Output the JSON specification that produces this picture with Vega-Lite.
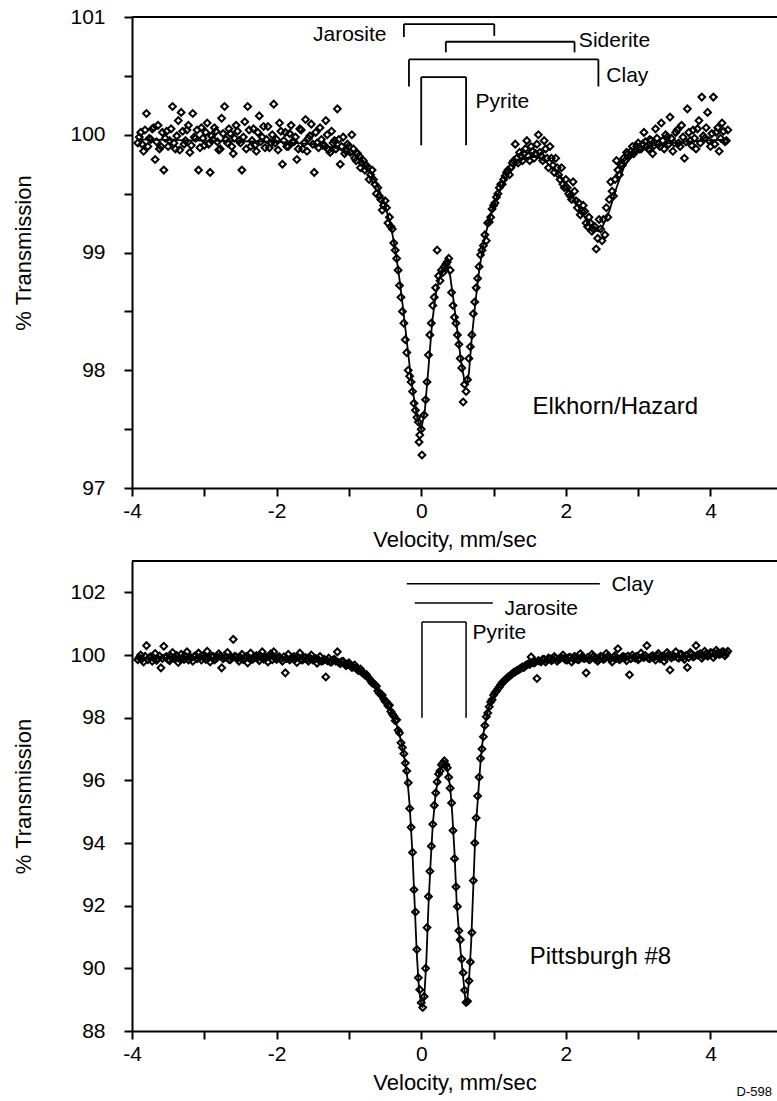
{
"$schema": "https://vega.github.io/schema/vega-lite/v6.json",
"padding": {"left": 12, "top": 6, "right": 0, "bottom": 0},
"spacing": 10,
"config": {
"font": "Liberation Sans",
"view": {"stroke": null},
"axis": {"domainColor": "black", "domainWidth": 2, "tickColor": "black", "tickWidth": 2, "tickSize": 8, "labelColor": "black", "labelFontSize": 21, "labelFont": "Liberation Sans", "titleFont": "Liberation Sans", "titleFontSize": 22, "titleFontWeight": "normal", "titleColor": "black", "grid": false, "labelFlush": false, "labelOverlap": false},
"axisX": {"labelPadding": 4, "titlePadding": 8},
"axisY": {"labelPadding": 19, "titlePadding": 34},
"text": {"font": "Liberation Sans", "fontSize": 21, "color": "black"}
},
"datasets": {
"t_pts": [
{"v":-3.92,"t":99.93},{"v":-3.88,"t":100.02},{"v":-3.84,"t":99.86},{"v":-3.80,"t":100.18},{"v":-3.76,"t":99.97},{"v":-3.72,"t":100.05},{"v":-3.68,"t":99.79},{"v":-3.64,"t":100.08},{"v":-3.60,"t":99.90},{"v":-3.56,"t":99.70},
{"v":-3.52,"t":100.03},{"v":-3.48,"t":99.95},{"v":-3.44,"t":100.24},{"v":-3.40,"t":99.88},{"v":-3.36,"t":100.12},{"v":-3.32,"t":100.19},{"v":-3.28,"t":99.92},{"v":-3.24,"t":100.04},{"v":-3.20,"t":99.85},{"v":-3.16,"t":100.18},
{"v":-3.12,"t":99.97},{"v":-3.08,"t":99.70},{"v":-3.04,"t":100.06},{"v":-3.00,"t":99.91},{"v":-2.96,"t":100.10},{"v":-2.92,"t":99.68},{"v":-2.88,"t":99.96},{"v":-2.84,"t":100.03},{"v":-2.80,"t":99.87},{"v":-2.76,"t":100.14},
{"v":-2.72,"t":100.24},{"v":-2.68,"t":99.93},{"v":-2.64,"t":100.01},{"v":-2.60,"t":99.84},{"v":-2.56,"t":100.08},{"v":-2.52,"t":99.95},{"v":-2.48,"t":99.70},{"v":-2.44,"t":100.11},{"v":-2.40,"t":100.24},{"v":-2.36,"t":99.90},
{"v":-2.32,"t":100.05},{"v":-2.28,"t":99.86},{"v":-2.24,"t":100.16},{"v":-2.20,"t":99.98},{"v":-2.16,"t":99.89},{"v":-2.12,"t":100.07},{"v":-2.08,"t":99.93},{"v":-2.04,"t":100.26},{"v":-2.00,"t":99.96},{"v":-1.96,"t":100.10},
{"v":-1.92,"t":99.75},{"v":-1.88,"t":100.02},{"v":-1.84,"t":99.90},{"v":-1.80,"t":100.08},{"v":-1.76,"t":99.94},{"v":-1.72,"t":99.79},{"v":-1.68,"t":100.05},{"v":-1.64,"t":99.88},{"v":-1.60,"t":100.13},{"v":-1.56,"t":99.97},
{"v":-1.52,"t":100.09},{"v":-1.48,"t":99.68},{"v":-1.44,"t":99.93},{"v":-1.40,"t":100.06},{"v":-1.36,"t":99.91},{"v":-1.32,"t":100.12},{"v":-1.28,"t":99.87},{"v":-1.24,"t":100.03},{"v":-1.20,"t":99.95},{"v":-1.16,"t":100.22},
{"v":-1.12,"t":99.75},{"v":-1.08,"t":99.98},{"v":-1.04,"t":99.86},{"v":-1.00,"t":99.90},{"v":-0.96,"t":100.00},{"v":-0.92,"t":99.80},{"v":-0.88,"t":99.84},{"v":-0.84,"t":99.72},{"v":-0.80,"t":99.78},{"v":-0.76,"t":99.74},
{"v":-0.72,"t":99.62},{"v":-0.68,"t":99.70},{"v":-0.64,"t":99.58},{"v":-0.60,"t":99.55},{"v":-0.56,"t":99.45},{"v":-0.52,"t":99.40},{"v":-0.48,"t":99.38},{"v":-0.44,"t":99.30},{"v":-0.40,"t":99.20},{"v":-0.36,"t":99.02},
{"v":-0.32,"t":98.85},{"v":-0.28,"t":98.62},{"v":-0.24,"t":98.40},{"v":-0.20,"t":98.15},{"v":-0.16,"t":97.95},{"v":-0.12,"t":97.82},{"v":-0.08,"t":97.66},{"v":-0.04,"t":97.56},{"v":0.00,"t":97.50},{"v":0.04,"t":97.62},
{"v":0.08,"t":97.90},{"v":0.12,"t":98.30},{"v":0.16,"t":98.55},{"v":0.20,"t":98.70},{"v":0.24,"t":98.80},{"v":0.28,"t":98.85},{"v":0.32,"t":98.88},{"v":0.36,"t":98.92},{"v":0.40,"t":98.85},{"v":0.44,"t":98.55},
{"v":0.48,"t":98.40},{"v":0.52,"t":98.22},{"v":0.56,"t":98.02},{"v":0.60,"t":97.88},{"v":0.64,"t":97.92},{"v":0.68,"t":98.20},{"v":0.72,"t":98.48},{"v":0.76,"t":98.70},{"v":0.80,"t":98.88},{"v":0.84,"t":99.02},
{"v":0.88,"t":99.15},{"v":0.92,"t":99.25},{"v":0.96,"t":99.30},{"v":1.00,"t":99.40},{"v":1.04,"t":99.47},{"v":1.08,"t":99.55},{"v":1.12,"t":99.58},{"v":1.16,"t":99.65},{"v":1.20,"t":99.70},{"v":1.24,"t":99.72},
{"v":1.28,"t":99.78},{"v":1.32,"t":99.80},{"v":1.36,"t":99.85},{"v":1.40,"t":99.78},{"v":1.44,"t":99.88},{"v":1.48,"t":99.82},{"v":1.52,"t":99.90},{"v":1.56,"t":99.80},{"v":1.60,"t":99.92},{"v":1.64,"t":99.85},
{"v":1.68,"t":99.78},{"v":1.72,"t":99.88},{"v":1.76,"t":99.72},{"v":1.80,"t":99.80},{"v":1.84,"t":99.68},{"v":1.88,"t":99.72},{"v":1.92,"t":99.62},{"v":1.96,"t":99.58},{"v":2.00,"t":99.62},{"v":2.04,"t":99.50},
{"v":2.08,"t":99.45},{"v":2.12,"t":99.52},{"v":2.16,"t":99.38},{"v":2.20,"t":99.32},{"v":2.24,"t":99.40},{"v":2.28,"t":99.25},{"v":2.32,"t":99.30},{"v":2.36,"t":99.18},{"v":2.40,"t":99.22},{"v":2.44,"t":99.12},
{"v":2.48,"t":99.20},{"v":2.52,"t":99.28},{"v":2.56,"t":99.38},{"v":2.60,"t":99.45},{"v":2.64,"t":99.52},{"v":2.68,"t":99.62},{"v":2.72,"t":99.70},{"v":2.76,"t":99.75},{"v":2.80,"t":99.80},{"v":2.84,"t":99.85},
{"v":2.88,"t":99.82},{"v":2.92,"t":99.90},{"v":2.96,"t":99.86},{"v":3.00,"t":99.93},{"v":3.04,"t":99.88},{"v":3.08,"t":100.02},{"v":3.12,"t":99.90},{"v":3.16,"t":99.96},{"v":3.20,"t":99.84},{"v":3.24,"t":100.05},
{"v":3.28,"t":99.92},{"v":3.32,"t":100.10},{"v":3.36,"t":99.88},{"v":3.40,"t":99.98},{"v":3.44,"t":100.15},{"v":3.48,"t":99.86},{"v":3.52,"t":100.02},{"v":3.56,"t":99.93},{"v":3.60,"t":100.08},{"v":3.64,"t":99.80},
{"v":3.68,"t":100.22},{"v":3.72,"t":99.95},{"v":3.76,"t":100.04},{"v":3.80,"t":99.88},{"v":3.84,"t":100.12},{"v":3.88,"t":100.32},{"v":3.92,"t":99.97},{"v":3.96,"t":100.19},{"v":4.00,"t":99.90},{"v":4.04,"t":100.32},
{"v":4.08,"t":100.02},{"v":4.12,"t":99.86},{"v":4.16,"t":100.10},{"v":4.20,"t":99.94},{"v":4.24,"t":100.04},
{"v":-0.62,"t":99.50},{"v":-0.58,"t":99.48},{"v":-0.54,"t":99.36},{"v":-0.50,"t":99.44},{"v":-0.46,"t":99.25},{"v":-0.42,"t":99.22},{"v":-0.38,"t":99.08},{"v":-0.34,"t":98.95},{"v":-0.30,"t":98.72},{"v":-0.26,"t":98.50},
{"v":-0.22,"t":98.26},{"v":-0.18,"t":98.00},{"v":-0.14,"t":97.90},{"v":-0.10,"t":97.72},{"v":-0.06,"t":97.60},{"v":-0.02,"t":97.45},{"v":0.01,"t":97.28},{"v":-0.03,"t":97.39},{"v":0.06,"t":97.75},{"v":0.10,"t":98.13},
{"v":0.14,"t":98.40},{"v":0.18,"t":98.62},{"v":0.22,"t":99.02},{"v":0.26,"t":98.76},{"v":0.30,"t":98.83},{"v":0.34,"t":98.90},{"v":0.38,"t":98.95},{"v":0.42,"t":98.66},{"v":0.46,"t":98.45},{"v":0.50,"t":98.30},
{"v":0.54,"t":98.10},{"v":0.58,"t":97.73},{"v":0.62,"t":97.82},{"v":0.66,"t":98.10},{"v":0.70,"t":98.30},{"v":0.74,"t":98.58},{"v":0.78,"t":98.78},{"v":0.82,"t":98.98},{"v":0.86,"t":99.06},{"v":0.90,"t":99.10},
{"v":0.94,"t":99.26},{"v":0.98,"t":99.37},{"v":1.02,"t":99.42},
{"v":1.30,"t":99.92},{"v":1.46,"t":99.95},{"v":1.62,"t":100.00},{"v":1.70,"t":99.95},{"v":1.78,"t":99.90},{"v":1.86,"t":99.80},{"v":1.94,"t":99.72},{"v":2.02,"t":99.55},{"v":2.10,"t":99.60},{"v":2.18,"t":99.42},
{"v":2.26,"t":99.35},{"v":2.34,"t":99.25},{"v":2.42,"t":99.03},{"v":2.46,"t":99.28},{"v":2.50,"t":99.10},{"v":2.54,"t":99.15},{"v":2.58,"t":99.30},{"v":2.62,"t":99.60},{"v":2.66,"t":99.48},{"v":2.70,"t":99.78},
{"v":-3.90,"t":99.98},{"v":-3.86,"t":99.92},{"v":-3.82,"t":100.04},{"v":-3.78,"t":99.90},{"v":-3.74,"t":99.96},{"v":-3.70,"t":100.06},{"v":-3.66,"t":99.94},{"v":-3.62,"t":99.88},{"v":-3.58,"t":100.02},{"v":-3.54,"t":99.97},
{"v":-3.50,"t":99.90},{"v":-3.46,"t":100.05},{"v":-3.42,"t":99.93},{"v":-3.38,"t":99.99},{"v":-3.34,"t":99.87},{"v":-3.30,"t":100.03},{"v":-3.26,"t":99.95},{"v":-3.22,"t":100.08},{"v":-3.18,"t":99.91},{"v":-3.14,"t":99.98},
{"v":-3.10,"t":100.04},{"v":-3.06,"t":99.89},{"v":-3.02,"t":99.97},{"v":-2.98,"t":100.02},{"v":-2.94,"t":99.92},{"v":-2.90,"t":99.99},{"v":-2.86,"t":100.06},{"v":-2.82,"t":99.94},{"v":-2.78,"t":99.88},{"v":-2.74,"t":100.01},
{"v":-2.70,"t":99.96},{"v":-2.66,"t":100.05},{"v":-2.62,"t":99.90},{"v":-2.58,"t":99.97},{"v":-2.54,"t":100.03},{"v":-2.50,"t":99.93},{"v":-2.46,"t":99.98},{"v":-2.42,"t":99.88},{"v":-2.38,"t":100.04},{"v":-2.34,"t":99.95},
{"v":-2.30,"t":99.91},{"v":-2.26,"t":100.02},{"v":-2.22,"t":99.94},{"v":-2.18,"t":100.07},{"v":-2.14,"t":99.96},{"v":-2.10,"t":99.89},{"v":-2.06,"t":100.00},{"v":-2.02,"t":99.93},{"v":-1.98,"t":99.87},{"v":-1.94,"t":100.03},
{"v":-1.90,"t":99.95},{"v":-1.86,"t":99.90},{"v":-1.82,"t":100.01},{"v":-1.78,"t":99.94},{"v":-1.74,"t":99.98},{"v":-1.70,"t":99.88},{"v":-1.66,"t":100.04},{"v":-1.62,"t":99.93},{"v":-1.58,"t":99.86},{"v":-1.54,"t":99.99},
{"v":-1.50,"t":99.92},{"v":-1.46,"t":100.02},{"v":-1.42,"t":99.89},{"v":-1.38,"t":99.96},{"v":-1.34,"t":99.91},{"v":-1.30,"t":100.00},{"v":-1.26,"t":99.85},{"v":-1.22,"t":99.93},{"v":-1.18,"t":99.88},{"v":-1.14,"t":99.96},
{"v":-1.10,"t":99.90},{"v":-1.06,"t":99.84},{"v":-1.02,"t":99.92},{"v":-0.98,"t":99.85},{"v":-0.94,"t":99.88},{"v":-0.90,"t":99.78},{"v":-0.86,"t":99.82},{"v":-0.82,"t":99.76},{"v":-0.78,"t":99.70},{"v":-0.74,"t":99.72},
{"v":-0.70,"t":99.66},{"v":-0.66,"t":99.62},
{"v":1.06,"t":99.50},{"v":1.10,"t":99.58},{"v":1.14,"t":99.62},{"v":1.18,"t":99.68},{"v":1.22,"t":99.66},{"v":1.26,"t":99.76},{"v":1.34,"t":99.76},{"v":1.38,"t":99.82},{"v":1.42,"t":99.84},{"v":1.50,"t":99.78},
{"v":1.54,"t":99.86},{"v":1.58,"t":99.84},{"v":1.66,"t":99.82},{"v":1.74,"t":99.80},{"v":1.82,"t":99.74},{"v":1.90,"t":99.66},{"v":1.98,"t":99.55},{"v":2.06,"t":99.48},{"v":2.14,"t":99.44},{"v":2.22,"t":99.35},
{"v":2.30,"t":99.22},{"v":2.38,"t":99.20},{"v":2.74,"t":99.66},{"v":2.78,"t":99.74},{"v":2.82,"t":99.78},{"v":2.86,"t":99.84},{"v":2.90,"t":99.86},{"v":2.94,"t":99.84},{"v":2.98,"t":99.90},{"v":3.02,"t":99.88},
{"v":3.06,"t":99.92},{"v":3.10,"t":99.94},{"v":3.14,"t":99.88},{"v":3.18,"t":99.95},{"v":3.22,"t":99.91},{"v":3.26,"t":99.97},{"v":3.30,"t":99.90},{"v":3.34,"t":99.95},{"v":3.38,"t":100.00},{"v":3.42,"t":99.92},
{"v":3.46,"t":99.97},{"v":3.50,"t":99.93},{"v":3.54,"t":100.04},{"v":3.58,"t":99.90},{"v":3.62,"t":99.98},{"v":3.66,"t":99.94},{"v":3.70,"t":100.02},{"v":3.74,"t":99.91},{"v":3.78,"t":99.97},{"v":3.82,"t":100.05},
{"v":3.86,"t":99.93},{"v":3.90,"t":99.99},{"v":3.94,"t":100.06},{"v":3.98,"t":99.95},{"v":4.02,"t":100.01},{"v":4.06,"t":99.92},{"v":4.10,"t":100.06},{"v":4.14,"t":99.97},{"v":4.18,"t":100.03},{"v":4.22,"t":99.95}
],
"t_fit": [
{"v":-3.92,"t":99.96},{"v":-3.0,"t":99.95},{"v":-2.0,"t":99.94},{"v":-1.5,"t":99.92},{"v":-1.2,"t":99.89},{"v":-1.0,"t":99.85},{"v":-0.9,"t":99.82},{"v":-0.8,"t":99.76},{"v":-0.7,"t":99.68},{"v":-0.6,"t":99.56},
{"v":-0.5,"t":99.40},{"v":-0.45,"t":99.29},{"v":-0.4,"t":99.16},{"v":-0.35,"t":98.99},{"v":-0.3,"t":98.77},{"v":-0.25,"t":98.52},{"v":-0.2,"t":98.25},{"v":-0.15,"t":97.98},{"v":-0.1,"t":97.76},{"v":-0.05,"t":97.58},
{"v":0.0,"t":97.50},{"v":0.05,"t":97.66},{"v":0.1,"t":98.02},{"v":0.15,"t":98.40},{"v":0.2,"t":98.64},{"v":0.25,"t":98.78},{"v":0.3,"t":98.86},{"v":0.35,"t":98.89},{"v":0.4,"t":98.80},{"v":0.45,"t":98.58},
{"v":0.5,"t":98.33},{"v":0.55,"t":98.08},{"v":0.6,"t":97.90},{"v":0.63,"t":97.88},{"v":0.66,"t":97.98},{"v":0.7,"t":98.28},{"v":0.75,"t":98.58},{"v":0.8,"t":98.84},{"v":0.85,"t":99.04},{"v":0.9,"t":99.18},
{"v":0.95,"t":99.30},{"v":1.0,"t":99.40},{"v":1.1,"t":99.55},{"v":1.2,"t":99.66},{"v":1.3,"t":99.74},{"v":1.4,"t":99.79},{"v":1.5,"t":99.81},{"v":1.6,"t":99.81},{"v":1.7,"t":99.78},{"v":1.8,"t":99.73},
{"v":1.9,"t":99.66},{"v":2.0,"t":99.57},{"v":2.1,"t":99.47},{"v":2.2,"t":99.36},{"v":2.3,"t":99.26},{"v":2.4,"t":99.19},{"v":2.45,"t":99.18},{"v":2.5,"t":99.21},{"v":2.6,"t":99.35},{"v":2.7,"t":99.55},
{"v":2.8,"t":99.72},{"v":2.9,"t":99.82},{"v":3.0,"t":99.87},{"v":3.2,"t":99.91},{"v":3.6,"t":99.94},{"v":4.24,"t":99.96}
],
"t_seg": [
{"x1":-0.24,"x2":1.01,"y1":100.94,"y2":100.94},{"x1":-0.24,"x2":-0.24,"y1":100.94,"y2":100.83},{"x1":1.01,"x2":1.01,"y1":100.94,"y2":100.84},
{"x1":0.34,"x2":2.12,"y1":100.79,"y2":100.79},{"x1":0.34,"x2":0.34,"y1":100.79,"y2":100.70},{"x1":2.12,"x2":2.12,"y1":100.79,"y2":100.70},
{"x1":-0.17,"x2":2.45,"y1":100.64,"y2":100.64},{"x1":-0.17,"x2":-0.17,"y1":100.64,"y2":100.41},{"x1":2.45,"x2":2.45,"y1":100.64,"y2":100.41},
{"x1":0.0,"x2":0.62,"y1":100.49,"y2":100.49},{"x1":0.0,"x2":0.0,"y1":100.49,"y2":99.91},{"x1":0.62,"x2":0.62,"y1":100.49,"y2":99.91}
],
"t_txt": [
{"v":-0.48,"t":100.85,"label":"Jarosite"},{"v":2.18,"t":100.80,"label":"Siderite"},{"v":2.56,"t":100.50,"label":"Clay"},{"v":0.75,"t":100.28,"label":"Pyrite"},{"v":1.54,"t":97.69,"label":"Elkhorn/Hazard"}
],
"b_pts": [
{"v":-3.92,"t":99.85},{"v":-3.88,"t":100.00},{"v":-3.84,"t":99.78},{"v":-3.80,"t":100.30},{"v":-3.76,"t":99.92},{"v":-3.72,"t":99.80},{"v":-3.68,"t":100.05},{"v":-3.64,"t":99.88},{"v":-3.60,"t":99.59},{"v":-3.56,"t":100.28},
{"v":-3.52,"t":99.95},{"v":-3.48,"t":99.82},{"v":-3.44,"t":100.08},{"v":-3.40,"t":99.90},{"v":-3.36,"t":99.76},{"v":-3.32,"t":100.02},{"v":-3.28,"t":99.86},{"v":-3.24,"t":100.10},{"v":-3.20,"t":99.93},{"v":-3.16,"t":99.80},
{"v":-3.12,"t":99.98},{"v":-3.08,"t":100.06},{"v":-3.04,"t":99.84},{"v":-3.00,"t":99.92},{"v":-2.96,"t":100.12},{"v":-2.92,"t":99.78},{"v":-2.88,"t":99.96},{"v":-2.84,"t":99.88},{"v":-2.80,"t":100.04},{"v":-2.76,"t":99.59},
{"v":-2.72,"t":99.92},{"v":-2.68,"t":100.08},{"v":-2.64,"t":99.85},{"v":-2.60,"t":100.50},{"v":-2.56,"t":99.94},{"v":-2.52,"t":99.80},{"v":-2.48,"t":100.02},{"v":-2.44,"t":99.90},{"v":-2.40,"t":99.75},{"v":-2.36,"t":100.06},
{"v":-2.32,"t":99.88},{"v":-2.28,"t":99.98},{"v":-2.24,"t":99.82},{"v":-2.20,"t":100.10},{"v":-2.16,"t":99.92},{"v":-2.12,"t":99.78},{"v":-2.08,"t":100.04},{"v":-2.04,"t":100.10},{"v":-2.00,"t":99.86},{"v":-1.96,"t":99.94},
{"v":-1.92,"t":99.80},{"v":-1.88,"t":99.43},{"v":-1.84,"t":100.02},{"v":-1.80,"t":99.88},{"v":-1.76,"t":99.95},{"v":-1.72,"t":99.76},{"v":-1.68,"t":100.06},{"v":-1.64,"t":99.84},{"v":-1.60,"t":99.92},{"v":-1.56,"t":99.80},
{"v":-1.52,"t":100.00},{"v":-1.48,"t":99.86},{"v":-1.44,"t":99.74},{"v":-1.40,"t":99.95},{"v":-1.36,"t":99.82},{"v":-1.32,"t":99.30},{"v":-1.28,"t":99.90},{"v":-1.24,"t":99.78},{"v":-1.20,"t":99.86},{"v":-1.16,"t":100.10},
{"v":-1.12,"t":99.72},{"v":-1.08,"t":99.80},{"v":-1.04,"t":99.66},{"v":-1.00,"t":99.75},{"v":-0.96,"t":99.60},{"v":-0.92,"t":99.68},{"v":-0.88,"t":99.52},{"v":-0.84,"t":99.55},{"v":-0.80,"t":99.40},{"v":-0.76,"t":99.38},
{"v":-0.72,"t":99.25},{"v":-0.68,"t":99.11},{"v":-0.64,"t":99.05},{"v":-0.60,"t":98.85},{"v":-0.56,"t":98.75},{"v":-0.52,"t":98.60},{"v":-0.48,"t":98.50},{"v":-0.44,"t":98.40},{"v":-0.40,"t":98.12},{"v":-0.36,"t":97.90},
{"v":-0.32,"t":97.60},{"v":-0.28,"t":97.20},{"v":-0.24,"t":96.85},{"v":-0.20,"t":96.30},{"v":-0.16,"t":95.10},{"v":-0.12,"t":93.70},{"v":-0.08,"t":91.80},{"v":-0.04,"t":89.70},{"v":0.00,"t":88.90},{"v":0.04,"t":89.10},
{"v":0.08,"t":91.30},{"v":0.12,"t":93.10},{"v":0.16,"t":94.60},{"v":0.20,"t":95.60},{"v":0.24,"t":96.20},{"v":0.28,"t":96.50},{"v":0.32,"t":96.62},{"v":0.36,"t":96.40},{"v":0.40,"t":95.75},{"v":0.44,"t":94.40},
{"v":0.48,"t":92.60},{"v":0.52,"t":91.20},{"v":0.56,"t":90.30},{"v":0.60,"t":89.30},{"v":0.64,"t":88.95},{"v":0.68,"t":90.20},{"v":0.72,"t":92.80},{"v":0.76,"t":94.80},{"v":0.80,"t":96.10},{"v":0.84,"t":97.00},
{"v":0.88,"t":97.75},{"v":0.92,"t":98.15},{"v":0.96,"t":98.50},{"v":1.00,"t":98.72},{"v":1.04,"t":98.85},{"v":1.08,"t":98.98},{"v":1.12,"t":99.12},{"v":1.16,"t":99.20},{"v":1.20,"t":99.30},{"v":1.24,"t":99.36},
{"v":1.28,"t":99.45},{"v":1.32,"t":99.50},{"v":1.36,"t":99.55},{"v":1.40,"t":99.62},{"v":1.44,"t":99.66},{"v":1.48,"t":99.72},{"v":1.52,"t":99.94},{"v":1.56,"t":99.75},{"v":1.60,"t":99.25},{"v":1.64,"t":99.80},
{"v":1.68,"t":99.86},{"v":1.72,"t":99.78},{"v":1.76,"t":99.90},{"v":1.80,"t":99.82},{"v":1.84,"t":99.95},{"v":1.88,"t":99.80},{"v":1.92,"t":99.88},{"v":1.96,"t":100.00},{"v":2.00,"t":99.84},{"v":2.04,"t":99.92},
{"v":2.08,"t":99.78},{"v":2.12,"t":99.96},{"v":2.16,"t":99.86},{"v":2.20,"t":100.04},{"v":2.24,"t":99.90},{"v":2.28,"t":99.43},{"v":2.32,"t":99.85},{"v":2.36,"t":100.02},{"v":2.40,"t":99.88},{"v":2.44,"t":99.80},
{"v":2.48,"t":99.96},{"v":2.52,"t":99.86},{"v":2.56,"t":100.05},{"v":2.60,"t":99.92},{"v":2.64,"t":99.78},{"v":2.68,"t":99.98},{"v":2.72,"t":100.20},{"v":2.76,"t":99.88},{"v":2.80,"t":99.95},{"v":2.84,"t":99.82},
{"v":2.88,"t":99.37},{"v":2.92,"t":100.00},{"v":2.96,"t":99.90},{"v":3.00,"t":99.85},{"v":3.04,"t":100.06},{"v":3.08,"t":99.92},{"v":3.12,"t":100.30},{"v":3.16,"t":99.88},{"v":3.20,"t":99.98},{"v":3.24,"t":99.84},
{"v":3.28,"t":100.05},{"v":3.32,"t":99.92},{"v":3.36,"t":99.80},{"v":3.40,"t":100.08},{"v":3.44,"t":99.52},{"v":3.48,"t":99.95},{"v":3.52,"t":100.10},{"v":3.56,"t":99.90},{"v":3.60,"t":100.02},{"v":3.64,"t":99.86},
{"v":3.68,"t":99.60},{"v":3.72,"t":100.08},{"v":3.76,"t":99.94},{"v":3.80,"t":100.30},{"v":3.84,"t":100.00},{"v":3.88,"t":99.90},{"v":3.92,"t":100.12},{"v":3.96,"t":99.96},{"v":4.00,"t":100.08},{"v":4.04,"t":99.92},
{"v":4.08,"t":100.15},{"v":4.12,"t":100.02},{"v":4.16,"t":100.10},{"v":4.20,"t":99.98},{"v":4.24,"t":100.12},
{"v":-0.62,"t":99.00},{"v":-0.58,"t":98.78},{"v":-0.54,"t":98.72},{"v":-0.50,"t":98.52},{"v":-0.46,"t":98.38},{"v":-0.42,"t":98.20},{"v":-0.38,"t":98.05},{"v":-0.34,"t":97.93},{"v":-0.30,"t":97.51},{"v":-0.26,"t":97.05},
{"v":-0.22,"t":96.55},{"v":-0.18,"t":95.92},{"v":-0.14,"t":94.50},{"v":-0.10,"t":92.51},{"v":-0.06,"t":90.60},{"v":-0.02,"t":89.32},{"v":0.02,"t":88.75},{"v":0.06,"t":90.00},{"v":0.10,"t":92.29},{"v":0.14,"t":93.90},
{"v":0.18,"t":95.20},{"v":0.22,"t":95.95},{"v":0.26,"t":96.30},{"v":0.30,"t":96.55},{"v":0.34,"t":96.50},{"v":0.38,"t":96.10},{"v":0.42,"t":95.28},{"v":0.46,"t":93.50},{"v":0.50,"t":91.97},{"v":0.54,"t":90.91},
{"v":0.58,"t":89.86},{"v":0.62,"t":88.91},{"v":0.66,"t":89.60},{"v":0.70,"t":91.14},{"v":0.74,"t":94.00},{"v":0.78,"t":95.50},{"v":0.82,"t":96.70},{"v":0.86,"t":97.39},{"v":0.90,"t":98.03},{"v":0.94,"t":98.35},
{"v":0.98,"t":98.57},{"v":1.02,"t":98.80},
{"v":-3.90,"t":99.92},{"v":-3.86,"t":99.88},{"v":-3.82,"t":99.96},{"v":-3.78,"t":99.85},{"v":-3.74,"t":99.94},{"v":-3.70,"t":99.90},{"v":-3.66,"t":99.83},{"v":-3.62,"t":99.97},{"v":-3.58,"t":99.89},{"v":-3.54,"t":99.93},
{"v":-3.50,"t":99.86},{"v":-3.46,"t":99.95},{"v":-3.42,"t":99.90},{"v":-3.38,"t":99.98},{"v":-3.34,"t":99.87},{"v":-3.30,"t":99.92},{"v":-3.26,"t":99.96},{"v":-3.22,"t":99.84},{"v":-3.18,"t":99.91},{"v":-3.14,"t":99.95},
{"v":-3.10,"t":99.88},{"v":-3.06,"t":99.93},{"v":-3.02,"t":99.97},{"v":-2.98,"t":99.86},{"v":-2.94,"t":99.91},{"v":-2.90,"t":99.95},{"v":-2.86,"t":99.84},{"v":-2.82,"t":99.92},{"v":-2.78,"t":99.97},{"v":-2.74,"t":99.88},
{"v":-2.70,"t":99.94},{"v":-2.66,"t":99.86},{"v":-2.62,"t":99.92},{"v":-2.58,"t":99.96},{"v":-2.54,"t":99.88},{"v":-2.50,"t":99.93},{"v":-2.46,"t":99.85},{"v":-2.42,"t":99.95},{"v":-2.38,"t":99.90},{"v":-2.34,"t":99.86},
{"v":-2.30,"t":99.94},{"v":-2.26,"t":99.91},{"v":-2.22,"t":99.97},{"v":-2.18,"t":99.87},{"v":-2.14,"t":99.92},{"v":-2.10,"t":99.95},{"v":-2.06,"t":99.85},{"v":-2.02,"t":99.90},{"v":-1.98,"t":99.93},{"v":-1.94,"t":99.87},
{"v":-1.90,"t":99.94},{"v":-1.86,"t":99.89},{"v":-1.82,"t":99.84},{"v":-1.78,"t":99.92},{"v":-1.74,"t":99.88},{"v":-1.70,"t":99.93},{"v":-1.66,"t":99.85},{"v":-1.62,"t":99.90},{"v":-1.58,"t":99.86},{"v":-1.54,"t":99.91},
{"v":-1.50,"t":99.84},{"v":-1.46,"t":99.89},{"v":-1.42,"t":99.85},{"v":-1.38,"t":99.80},{"v":-1.34,"t":99.86},{"v":-1.30,"t":99.82},{"v":-1.26,"t":99.78},{"v":-1.22,"t":99.84},{"v":-1.18,"t":99.80},{"v":-1.14,"t":99.76},
{"v":-1.10,"t":99.79},{"v":-1.06,"t":99.72},{"v":-1.02,"t":99.70},{"v":-0.98,"t":99.66},{"v":-0.94,"t":99.62},{"v":-0.90,"t":99.58},{"v":-0.86,"t":99.50},{"v":-0.82,"t":99.46},{"v":-0.78,"t":99.36},{"v":-0.74,"t":99.30},
{"v":-0.70,"t":99.18},{"v":-0.66,"t":99.10},
{"v":1.06,"t":98.92},{"v":1.10,"t":99.05},{"v":1.14,"t":99.15},{"v":1.18,"t":99.25},{"v":1.22,"t":99.32},{"v":1.26,"t":99.40},{"v":1.30,"t":99.46},{"v":1.34,"t":99.52},{"v":1.38,"t":99.58},{"v":1.42,"t":99.60},
{"v":1.46,"t":99.68},{"v":1.50,"t":99.70},{"v":1.54,"t":99.76},{"v":1.58,"t":99.78},{"v":1.62,"t":99.82},{"v":1.66,"t":99.79},{"v":1.70,"t":99.86},{"v":1.74,"t":99.84},{"v":1.78,"t":99.88},{"v":1.82,"t":99.85},
{"v":1.86,"t":99.90},{"v":1.90,"t":99.86},{"v":1.94,"t":99.92},{"v":1.98,"t":99.88},{"v":2.02,"t":99.84},{"v":2.06,"t":99.93},{"v":2.10,"t":99.88},{"v":2.14,"t":99.91},{"v":2.18,"t":99.85},{"v":2.22,"t":99.94},
{"v":2.26,"t":99.89},{"v":2.30,"t":99.92},{"v":2.34,"t":99.87},{"v":2.38,"t":99.95},{"v":2.42,"t":99.90},{"v":2.46,"t":99.86},{"v":2.50,"t":99.93},{"v":2.54,"t":99.89},{"v":2.58,"t":99.96},{"v":2.62,"t":99.88},
{"v":2.66,"t":99.93},{"v":2.70,"t":99.90},{"v":2.74,"t":99.85},{"v":2.78,"t":99.94},{"v":2.82,"t":99.91},{"v":2.86,"t":99.97},{"v":2.90,"t":99.88},{"v":2.94,"t":99.93},{"v":2.98,"t":99.96},{"v":3.02,"t":99.89},
{"v":3.06,"t":99.94},{"v":3.10,"t":99.98},{"v":3.14,"t":99.90},{"v":3.18,"t":99.95},{"v":3.22,"t":99.92},{"v":3.26,"t":99.99},{"v":3.30,"t":99.88},{"v":3.34,"t":99.95},{"v":3.38,"t":99.92},{"v":3.42,"t":100.00},
{"v":3.46,"t":99.91},{"v":3.50,"t":99.96},{"v":3.54,"t":99.93},{"v":3.58,"t":100.02},{"v":3.62,"t":99.94},{"v":3.66,"t":99.98},{"v":3.70,"t":99.92},{"v":3.74,"t":100.03},{"v":3.78,"t":99.96},{"v":3.82,"t":100.00},
{"v":3.86,"t":100.05},{"v":3.90,"t":99.97},{"v":3.94,"t":100.04},{"v":3.98,"t":100.00},{"v":4.02,"t":100.06},{"v":4.06,"t":100.02},{"v":4.10,"t":100.08},{"v":4.14,"t":100.03},{"v":4.18,"t":100.10},{"v":4.22,"t":100.06}
],
"b_fit": [
{"v":-3.92,"t":99.90},{"v":-3.0,"t":99.90},{"v":-2.0,"t":99.89},{"v":-1.6,"t":99.87},{"v":-1.3,"t":99.82},{"v":-1.1,"t":99.75},{"v":-1.0,"t":99.70},{"v":-0.9,"t":99.60},{"v":-0.8,"t":99.45},{"v":-0.7,"t":99.20},
{"v":-0.64,"t":99.05},{"v":-0.6,"t":98.85},{"v":-0.55,"t":98.70},{"v":-0.5,"t":98.55},{"v":-0.45,"t":98.35},{"v":-0.4,"t":98.10},{"v":-0.35,"t":97.85},{"v":-0.3,"t":97.45},{"v":-0.25,"t":96.95},{"v":-0.2,"t":96.25},
{"v":-0.16,"t":95.20},{"v":-0.12,"t":93.60},{"v":-0.09,"t":92.00},{"v":-0.06,"t":90.40},{"v":-0.03,"t":89.30},{"v":0.0,"t":88.85},{"v":0.02,"t":88.78},{"v":0.04,"t":89.00},{"v":0.07,"t":90.20},{"v":0.1,"t":92.00},
{"v":0.13,"t":93.40},{"v":0.16,"t":94.60},{"v":0.2,"t":95.60},{"v":0.25,"t":96.25},{"v":0.3,"t":96.55},{"v":0.33,"t":96.57},{"v":0.36,"t":96.35},{"v":0.4,"t":95.80},{"v":0.43,"t":94.90},{"v":0.46,"t":93.70},
{"v":0.49,"t":92.10},{"v":0.52,"t":91.20},{"v":0.55,"t":90.40},{"v":0.58,"t":89.70},{"v":0.61,"t":89.00},{"v":0.63,"t":88.85},{"v":0.66,"t":89.60},{"v":0.69,"t":90.80},{"v":0.72,"t":92.60},{"v":0.75,"t":94.40},
{"v":0.78,"t":95.30},{"v":0.82,"t":96.60},{"v":0.86,"t":97.50},{"v":0.9,"t":98.00},{"v":0.95,"t":98.45},{"v":1.0,"t":98.70},{"v":1.1,"t":99.10},{"v":1.2,"t":99.32},{"v":1.3,"t":99.50},{"v":1.45,"t":99.68},
{"v":1.6,"t":99.78},{"v":1.8,"t":99.84},{"v":2.2,"t":99.87},{"v":3.0,"t":99.90},{"v":4.24,"t":99.98}
],
"b_seg": [
{"x1":-0.2,"x2":2.47,"y1":102.27,"y2":102.27},
{"x1":-0.09,"x2":0.99,"y1":101.66,"y2":101.66},
{"x1":0.01,"x2":0.62,"y1":101.05,"y2":101.05},{"x1":0.01,"x2":0.01,"y1":101.05,"y2":98.0},{"x1":0.62,"x2":0.62,"y1":101.05,"y2":98.0}
],
"b_txt": [
{"v":2.63,"t":102.22,"label":"Clay"},{"v":1.15,"t":101.47,"label":"Jarosite"},{"v":0.71,"t":100.70,"label":"Pyrite"},{"v":1.5,"t":90.37,"label":"Pittsburgh #8"},{"v":4.36,"t":86.05,"label":"D-598"}
]
},
"vconcat": [
{
"width": 645, "height": 471,
"layer": [
{"data": {"name": "t_pts"}, "mark": {"type": "point", "shape": "diamond", "filled": false, "stroke": "black", "strokeWidth": 2, "size": 46, "opacity": 1},
 "encoding": {
  "x": {"field": "v", "type": "quantitative", "scale": {"domain": [-4, 4.92], "nice": false, "zero": false}, "axis": {"values": [-4,-3,-2,-1,0,1,2,3,4], "labelExpr": "datum.value % 2 === 0 ? ('' + datum.value) : ''", "title": "Velocity, mm/sec"}},
  "y": {"field": "t", "type": "quantitative", "scale": {"domain": [97, 101], "nice": false, "zero": false}, "axis": {"values": [97,97.5,98,98.5,99,99.5,100,100.5,101], "labelExpr": "datum.value % 1 === 0 ? ('' + datum.value) : ''", "title": "% Transmission"}}
 }},
{"data": {"name": "t_fit"}, "mark": {"type": "line", "color": "black", "strokeWidth": 1.8},
 "encoding": {
  "x": {"field": "v", "type": "quantitative"},
  "y": {"field": "t", "type": "quantitative"}
 }},
{"data": {"name": "t_seg"}, "mark": {"type": "rule", "color": "black", "strokeWidth": 1.8},
 "encoding": {
  "x": {"field": "x1", "type": "quantitative"},
  "x2": {"field": "x2"},
  "y": {"field": "y1", "type": "quantitative"},
  "y2": {"field": "y2"}
 }},
{"data": {"name": "t_txt"}, "transform": [{"filter": "datum.label === 'Jarosite'"}], "mark": {"type": "text", "align": "right", "baseline": "middle", "fontSize": 21},
 "encoding": {
  "x": {"field": "v", "type": "quantitative"},
  "y": {"field": "t", "type": "quantitative"},
  "text": {"field": "label"}
 }},
{"data": {"name": "t_txt"}, "transform": [{"filter": "datum.label !== 'Jarosite' && datum.label !== 'Elkhorn/Hazard'"}], "mark": {"type": "text", "align": "left", "baseline": "middle", "fontSize": 21},
 "encoding": {
  "x": {"field": "v", "type": "quantitative"},
  "y": {"field": "t", "type": "quantitative"},
  "text": {"field": "label"}
 }},
{"data": {"name": "t_txt"}, "transform": [{"filter": "datum.label === 'Elkhorn/Hazard'"}], "mark": {"type": "text", "align": "left", "baseline": "middle", "fontSize": 24},
 "encoding": {
  "x": {"field": "v", "type": "quantitative"},
  "y": {"field": "t", "type": "quantitative"},
  "text": {"field": "label"}
 }},
{"data": {"values": [{}]}, "mark": {"type": "rule", "color": "black", "strokeWidth": 2},
 "encoding": {"y": {"datum": 101, "type": "quantitative"}}}
]
},
{
"width": 645, "height": 470,
"layer": [
{"data": {"name": "b_pts"}, "mark": {"type": "point", "shape": "diamond", "filled": false, "stroke": "black", "strokeWidth": 2, "size": 46, "opacity": 1},
 "encoding": {
  "x": {"field": "v", "type": "quantitative", "scale": {"domain": [-4, 4.92], "nice": false, "zero": false}, "axis": {"values": [-4,-3,-2,-1,0,1,2,3,4], "labelExpr": "datum.value % 2 === 0 ? ('' + datum.value) : ''", "title": "Velocity, mm/sec"}},
  "y": {"field": "t", "type": "quantitative", "scale": {"domain": [88, 103], "nice": false, "zero": false}, "axis": {"values": [88,89,90,91,92,93,94,95,96,97,98,99,100,101,102], "labelExpr": "datum.value % 2 === 0 ? ('' + datum.value) : ''", "title": "% Transmission"}}
 }},
{"data": {"name": "b_fit"}, "mark": {"type": "line", "color": "black", "strokeWidth": 1.8},
 "encoding": {
  "x": {"field": "v", "type": "quantitative"},
  "y": {"field": "t", "type": "quantitative"}
 }},
{"data": {"name": "b_seg"}, "mark": {"type": "rule", "color": "black", "strokeWidth": 1.5},
 "encoding": {
  "x": {"field": "x1", "type": "quantitative"},
  "x2": {"field": "x2"},
  "y": {"field": "y1", "type": "quantitative"},
  "y2": {"field": "y2"}
 }},
{"data": {"name": "b_txt"}, "transform": [{"filter": "datum.label !== 'Pittsburgh #8' && datum.label !== 'D-598'"}], "mark": {"type": "text", "align": "left", "baseline": "middle", "fontSize": 21},
 "encoding": {
  "x": {"field": "v", "type": "quantitative"},
  "y": {"field": "t", "type": "quantitative"},
  "text": {"field": "label"}
 }},
{"data": {"name": "b_txt"}, "transform": [{"filter": "datum.label === 'Pittsburgh #8'"}], "mark": {"type": "text", "align": "left", "baseline": "middle", "fontSize": 24},
 "encoding": {
  "x": {"field": "v", "type": "quantitative"},
  "y": {"field": "t", "type": "quantitative"},
  "text": {"field": "label"}
 }},
{"data": {"name": "b_txt"}, "transform": [{"filter": "datum.label === 'D-598'"}], "mark": {"type": "text", "align": "left", "baseline": "middle", "fontSize": 13},
 "encoding": {
  "x": {"field": "v", "type": "quantitative"},
  "y": {"field": "t", "type": "quantitative"},
  "text": {"field": "label"}
 }},
{"data": {"values": [{}]}, "mark": {"type": "rule", "color": "black", "strokeWidth": 2},
 "encoding": {"y": {"datum": 103, "type": "quantitative"}}}
]
}
]
}
